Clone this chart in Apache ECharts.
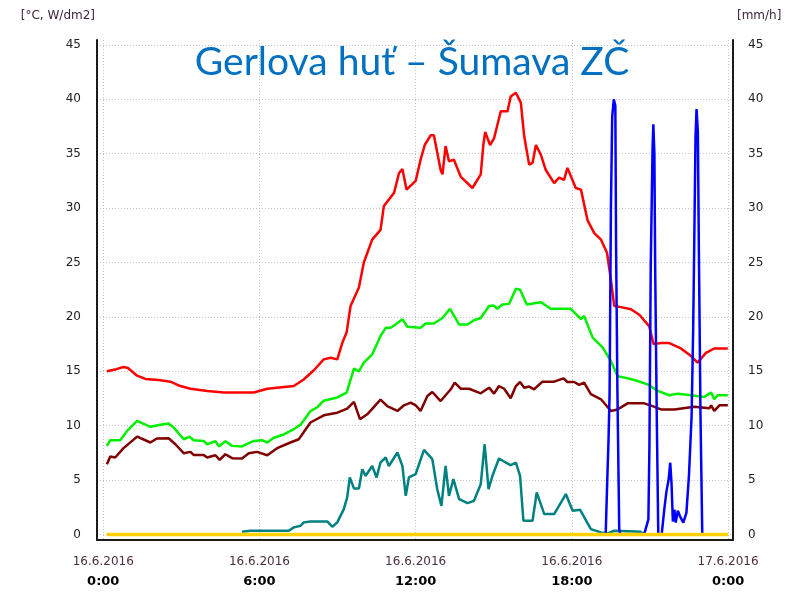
<!DOCTYPE html>
<html>
<head>
<meta charset="utf-8">
<script src="https://cdn.jsdelivr.net/npm/echarts@6/dist/echarts.min.js"></script>
<style>
html,body{margin:0;padding:0;background:#fff;}
#chart{width:794px;height:592px;}
</style>
</head>
<body>
<div id="chart"></div>
<script>
// ---- data (x = hours since 16.6.2016 0:00) ----
const tickHours = [0, 6, 12, 18, 24];
const dateLabels = ['16.6.2016', '16.6.2016', '16.6.2016', '16.6.2016', '17.6.2016'];
const timeLabels = ['0:00', '6:00', '12:00', '18:00', '0:00'];
const yTicks = [0, 5, 10, 15, 20, 25, 30, 35, 40, 45];

const redSeries = [[0.14,15.0],[0.5,15.2],[0.78,15.4],[0.95,15.3],[1.3,14.6],[1.62,14.3],[2.13,14.2],[2.58,14.05],[2.96,13.65],[3.35,13.4],[4.0,13.2],[4.63,13.05],[5.78,13.05],[6.3,13.4],[7.32,13.65],[7.7,14.25],[8.09,15.1],[8.47,16.1],[8.73,16.25],[8.99,16.1],[9.18,17.6],[9.35,18.6],[9.5,21.0],[9.82,22.7],[10.01,25.0],[10.33,27.1],[10.65,28.0],[10.78,30.2],[11.17,31.4],[11.36,33.2],[11.49,33.6],[11.65,31.7],[12.0,32.5],[12.19,34.45],[12.35,35.8],[12.58,36.7],[12.7,36.7],[12.96,33.5],[13.03,33.1],[13.15,35.7],[13.28,34.3],[13.47,34.45],[13.73,32.9],[14.18,31.85],[14.5,33.1],[14.6,35.8],[14.67,37.0],[14.86,35.8],[15.01,36.4],[15.27,38.9],[15.53,38.9],[15.65,40.25],[15.85,40.6],[16.04,39.7],[16.17,36.6],[16.36,34.0],[16.49,34.15],[16.62,35.8],[16.81,34.9],[17.0,33.5],[17.32,32.3],[17.51,32.8],[17.7,32.6],[17.83,33.7],[18.15,31.85],[18.35,31.7],[18.6,28.9],[18.86,27.7],[19.12,27.1],[19.35,25.9],[19.5,23.4],[19.63,21.0],[19.88,20.9],[20.27,20.7],[20.59,20.2],[20.97,19.15],[21.14,17.5],[21.42,17.6],[21.74,17.6],[22.19,17.1],[22.58,16.4],[22.83,15.8],[23.15,16.7],[23.47,17.1],[23.99,17.1]];

const greenSeries = [[0.14,8.15],[0.27,8.67],[0.65,8.67],[0.91,9.5],[1.3,10.45],[1.81,9.9],[2.19,10.1],[2.51,10.2],[2.7,9.85],[3.09,8.76],[3.32,9.0],[3.47,8.67],[3.86,8.6],[3.99,8.3],[4.31,8.58],[4.44,8.1],[4.69,8.58],[4.95,8.15],[5.33,8.1],[5.78,8.6],[6.1,8.67],[6.3,8.46],[6.55,8.9],[6.94,9.2],[7.32,9.68],[7.58,10.1],[7.96,11.35],[8.22,11.7],[8.47,12.3],[8.99,12.6],[9.35,13.05],[9.63,15.25],[9.82,15.0],[10.01,15.8],[10.33,16.55],[10.65,18.25],[10.85,19.0],[11.04,19.0],[11.23,19.3],[11.49,19.8],[11.68,19.1],[12.19,19.0],[12.38,19.4],[12.7,19.4],[13.03,19.9],[13.32,20.75],[13.67,19.3],[13.99,19.3],[14.24,19.7],[14.5,19.9],[14.82,21.0],[14.99,21.05],[15.14,20.75],[15.33,21.15],[15.59,21.2],[15.85,22.6],[16.01,22.5],[16.27,21.15],[16.81,21.35],[17.19,20.75],[17.96,20.75],[18.35,19.8],[18.47,20.1],[18.8,18.1],[19.18,17.2],[19.5,15.95],[19.76,14.55],[20.08,14.4],[20.4,14.2],[20.91,13.8],[21.3,13.2],[21.74,12.8],[22.07,12.95],[22.58,12.8],[23.09,12.65],[23.35,13.05],[23.47,12.45],[23.6,12.8],[23.99,12.8]];

const maroonSeries = [[0.14,6.47],[0.27,7.17],[0.46,7.08],[0.78,7.94],[1.3,9.0],[1.81,8.46],[2.06,8.83],[2.51,8.85],[2.77,8.3],[3.09,7.48],[3.35,7.6],[3.47,7.32],[3.86,7.32],[3.99,7.08],[4.31,7.29],[4.47,6.86],[4.69,7.38],[4.95,7.02],[5.33,6.99],[5.59,7.48],[5.91,7.6],[6.3,7.29],[6.68,7.94],[7.19,8.46],[7.51,8.76],[7.96,10.3],[8.47,10.96],[8.99,11.2],[9.37,11.58],[9.63,12.2],[9.86,10.6],[10.14,11.05],[10.65,12.4],[10.91,11.8],[11.3,11.36],[11.55,11.88],[11.81,12.13],[12.0,11.88],[12.19,11.36],[12.45,12.73],[12.64,13.1],[12.96,12.27],[13.35,13.35],[13.5,13.96],[13.73,13.4],[14.05,13.4],[14.5,12.98],[14.82,13.5],[15.01,12.95],[15.2,13.65],[15.4,13.4],[15.65,12.52],[15.85,13.65],[16.01,14.02],[16.17,13.5],[16.36,13.6],[16.55,13.35],[16.87,14.05],[17.32,14.05],[17.68,14.36],[17.83,14.02],[18.09,14.02],[18.28,13.75],[18.47,13.96],[18.73,12.9],[19.12,12.43],[19.5,11.36],[19.76,11.5],[20.14,12.06],[20.78,12.06],[21.1,11.8],[21.42,11.5],[21.94,11.5],[22.7,11.75],[23.28,11.6],[23.35,11.88],[23.47,11.36],[23.67,11.88],[23.99,11.88]];

const tealSeries = [[5.33,0.26],[5.65,0.35],[7.13,0.35],[7.32,0.66],[7.58,0.81],[7.7,1.12],[7.96,1.21],[8.6,1.21],[8.8,0.72],[8.99,1.12],[9.24,2.34],[9.37,3.41],[9.47,5.25],[9.63,4.24],[9.82,4.24],[9.95,6.0],[10.08,5.4],[10.33,6.3],[10.5,5.25],[10.65,6.62],[10.85,7.08],[10.97,6.3],[11.3,7.54],[11.49,6.31],[11.62,3.56],[11.74,5.25],[12.0,5.55],[12.32,7.78],[12.64,6.93],[12.83,4.17],[12.99,2.64],[13.15,6.31],[13.28,3.56],[13.45,5.09],[13.67,3.26],[13.99,2.89],[14.24,3.1],[14.5,4.63],[14.65,8.3],[14.8,4.17],[14.95,5.4],[15.2,6.99],[15.46,6.62],[15.65,6.38],[15.85,6.62],[16.01,5.4],[16.14,1.27],[16.49,1.27],[16.65,3.87],[16.94,1.88],[17.32,1.88],[17.77,3.72],[18.03,2.18],[18.32,2.27],[18.73,0.5],[19.12,0.2],[19.37,0.1],[19.63,0.35],[20.65,0.26],[20.75,0.0],[24,0]];

const blueSeries = [[0.14,0],[19.3,0],[19.35,4.2],[19.41,8.8],[19.45,13],[19.5,29.9],[19.55,38.4],[19.61,40],[19.67,39.4],[19.7,26.2],[19.75,13.2],[19.82,0.5],[19.86,0],[20.75,0],[20.81,0.3],[20.94,1.4],[20.98,8.1],[21.03,24.7],[21.1,35.5],[21.13,37.7],[21.17,35.0],[21.2,24.7],[21.26,11.2],[21.32,0],[21.45,0],[21.55,2.3],[21.63,3.9],[21.72,5.1],[21.78,6.6],[21.83,4.6],[21.88,1.2],[21.94,2.3],[21.99,1.1],[22.07,2.2],[22.15,1.7],[22.28,1.1],[22.4,2.0],[22.5,5.5],[22.6,10.9],[22.66,18.85],[22.7,26.5],[22.75,36.5],[22.79,39.1],[22.84,37.0],[22.88,26],[22.94,11.2],[23.01,0],[24,0]];

const yellowSeries = [[0.14,0],[24,0]];

// ---- chart ----
const chart = echarts.init(document.getElementById('chart'));
const FONT = 'DejaVu Sans';
function lineSeries(name, data, color, width, yIdx) {
  return {
    name: name, type: 'line', data: data, yAxisIndex: yIdx || 0,
    showSymbol: false, symbol: 'none', smooth: false, animation: false,
    lineStyle: { color: color, width: width }, itemStyle: { color: color }
  };
}
const option = {
  animation: false,
  backgroundColor: '#ffffff',
  title: {
    text: 'Gerlova huť – Šumava ZČ',
    left: 407, top: 38, textAlign: 'center',
    textStyle: { fontFamily: 'Lato', fontSize: 39, fontWeight: 'normal', color: '#0070C0' }
  },
  grid: { left: 97, right: 61, top: 40, bottom: 51 },
  xAxis: {
    type: 'value', min: -0.24, max: 24.19,
    axisLine: { show: true, onZero: false, lineStyle: { color: '#1a1a1a', width: 2 } },
    axisTick: { show: false, customValues: tickHours },
    splitLine: { show: true, lineStyle: { color: '#c4c4c4', type: [1, 2], width: 1 } },
    axisLabel: {
      customValues: tickHours, margin: 12,
      fontFamily: FONT, fontSize: 12, color: '#4a2e3e', lineHeight: 20,
      formatter: function (v) {
        const i = tickHours.indexOf(Math.round(v));
        if (i < 0) return '';
        return dateLabels[i] + '\n{b|' + timeLabels[i] + '}';
      },
      rich: { b: { fontFamily: FONT, fontSize: 13, fontWeight: 'bold', color: '#000', lineHeight: 20 } }
    }
  },
  yAxis: [
    {
      type: 'value', min: -0.5, max: 45.45, position: 'left',
      name: '[°C, W/dm2]', nameLocation: 'end', nameGap: 18,
      nameTextStyle: { fontFamily: FONT, fontSize: 12, color: '#3c2638', align: 'right', padding: [0, 2, 0, 0] },
      axisLine: { show: true, onZero: false, lineStyle: { color: '#1a1a1a', width: 2 } },
      axisTick: { show: false, customValues: yTicks },
      splitLine: { show: true, lineStyle: { color: '#c4c4c4', type: [1, 2], width: 1 } },
      axisLabel: { customValues: yTicks, margin: 16, fontFamily: FONT, fontSize: 12, color: '#222' }
    },
    {
      type: 'value', min: -0.5, max: 45.45, position: 'right',
      name: '[mm/h]', nameLocation: 'end', nameGap: 18,
      nameTextStyle: { fontFamily: FONT, fontSize: 12, color: '#3c2638', align: 'left', padding: [0, 0, 0, 4] },
      axisLine: { show: true, onZero: false, lineStyle: { color: '#1a1a1a', width: 2 } },
      axisTick: { show: false, customValues: yTicks },
      splitLine: { show: false },
      axisLabel: { customValues: yTicks, margin: 15, fontFamily: FONT, fontSize: 12, color: '#222' }
    }
  ],
  series: [
    lineSeries('Sluneční záření', tealSeries, '#008080', 2.5),
    lineSeries('Teplota rosného bodu', maroonSeries, '#800000', 2.5),
    lineSeries('Teplota vzduchu', greenSeries, '#00f000', 2.5),
    lineSeries('Teplota povrchu', redSeries, '#ff0000', 2.5),
    lineSeries('Srážky', blueSeries, '#0000ff', 2.5, 1),
    lineSeries('Nula', yellowSeries, '#ffd200', 3.5)
  ]
};
chart.setOption(option);
</script>
</body>
</html>
